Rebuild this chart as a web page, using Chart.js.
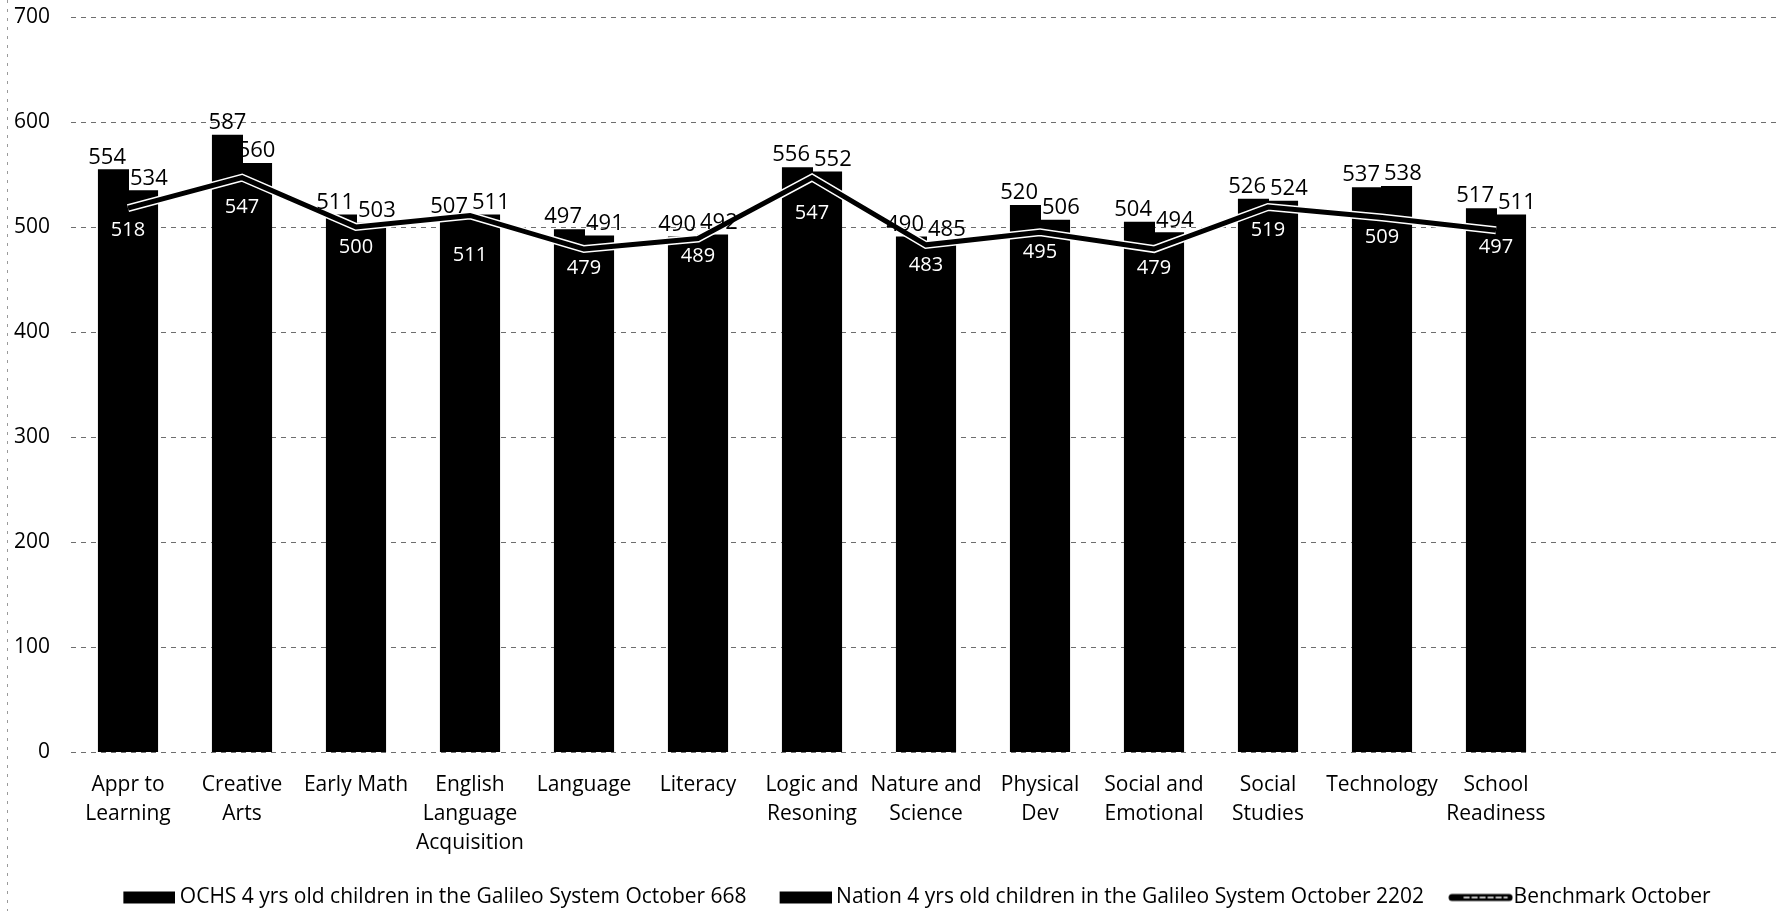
<!DOCTYPE html>
<html>
<head>
<meta charset="utf-8">
<title>Galileo October Scores</title>
<script src="https://cdn.jsdelivr.net/npm/chart.js@4/dist/chart.umd.min.js"></script>
<style>
  html, body { margin: 0; padding: 0; background: #fff; }
  #wrap { width: 1790px; height: 911px; position: relative; }
</style>
</head>
<body>
<div id="wrap"><canvas id="chart" width="1790" height="911"></canvas></div>
<script>
// Domain categories (two trailing empty slots keep the plot width)
const categories = [
  ['Appr to', 'Learning'],
  ['Creative', 'Arts'],
  'Early Math',
  ['English', 'Language', 'Acquisition'],
  'Language',
  'Literacy',
  ['Logic and', 'Resoning'],
  ['Nature and', 'Science'],
  ['Physical', 'Dev'],
  ['Social and', 'Emotional'],
  ['Social', 'Studies'],
  'Technology',
  ['School', 'Readiness'],
  '',
  ''
];

const ochsLabel = 'OCHS 4 yrs old children in the Galileo System October 668';
const nationLabel = 'Nation 4 yrs old children in the Galileo System October 2202';
const benchmarkLabel = 'Benchmark October';

const ochs      = [554, 587, 511, 507, 497, 490, 556, 490, 520, 504, 526, 537, 517];
const nation    = [534, 560, 503, 511, 491, 492, 552, 485, 506, 494, 524, 538, 511];
const benchmark = [518, 547, 500, 511, 479, 489, 547, 483, 495, 479, 519, 509, 497];

const yTicks = { min: 0, max: 700, step: 100 };

// How far (px) each benchmark value label sits below its point
const benchLabelDrop = [22, 30, 20, 40, 19, 18, 36, 20, 20, 19, 23, 20, 17];

const FONT = "'Open Sans', 'Noto Sans', sans-serif";
Chart.defaults.font.family = FONT;
Chart.defaults.color = '#000';

// Legend swatches: a wide black block for the bars and a black/white rule for the line.
// The legend centres each image on the point-style box, so the images are padded on the left.
const SW_PSW = 73;
function makeBarSwatch() {
  const W = 85, w = 52;
  const c = document.createElement('canvas');
  c.width = W; c.height = 14;
  const g = c.getContext('2d');
  g.fillStyle = '#000';
  g.fillRect(W - w, 1, w, 12);
  return c;
}
function makeLineSwatch() {
  const W = 93;
  const c = document.createElement('canvas');
  c.width = W; c.height = 14;
  const g = c.getContext('2d');
  g.strokeStyle = '#000';
  g.lineWidth = 7;
  g.lineCap = 'round';
  g.beginPath(); g.moveTo(32, 7); g.lineTo(W - 4, 7); g.stroke();
  g.strokeStyle = '#fff';
  g.lineWidth = 1.5;
  g.setLineDash([5, 3]);
  g.beginPath(); g.moveTo(44, 7); g.lineTo(W - 6, 7); g.stroke();
  return c;
}
const swatches = [makeBarSwatch(), makeBarSwatch(), makeLineSwatch()];

// Value labels: black above the bars, white below the benchmark line
const valueLabels = {
  id: 'valueLabels',
  afterDatasetsDraw(chart) {
    const ctx = chart.ctx;
    const mA = chart.getDatasetMeta(0);
    const mB = chart.getDatasetMeta(1);
    const mL = chart.getDatasetMeta(2);
    ctx.save();
    ctx.textAlign = 'center';
    ctx.textBaseline = 'middle';
    ctx.font = '22px ' + FONT;
    ctx.fillStyle = '#000';
    ochs.forEach((v, i) => {
      const a = mA.data[i], b = mB.data[i];
      const ta = String(v), tb = String(nation[i]);
      const wa = ctx.measureText(ta).width, wb = ctx.measureText(tb).width;
      let xa = a.x, xb = b.x;
      const ya = a.y - 13, yb = b.y - 13;
      if (Math.abs(ya - yb) < 24) {
        const need = (wa + wb) / 2 + 4 - (xb - xa);
        if (need > 0) { xa -= need / 2; xb += need / 2; }
      }
      ctx.fillText(ta, xa, ya);
      ctx.fillText(tb, xb, yb);
    });
    ctx.font = '20px ' + FONT;
    ctx.fillStyle = '#fff';
    benchmark.forEach((v, i) => {
      const p = mL.data[i];
      ctx.fillText(String(v), p.x, p.y + benchLabelDrop[i]);
    });
    ctx.restore();
  }
};

// Dotted margin rule on the far left
const marginRule = {
  id: 'marginRule',
  beforeDraw(chart) {
    const ctx = chart.ctx;
    ctx.save();
    ctx.strokeStyle = '#9a9a9a';
    ctx.lineWidth = 1;
    ctx.setLineDash([3, 6]);
    ctx.beginPath();
    ctx.moveTo(7.5, 0);
    ctx.lineTo(7.5, chart.height);
    ctx.stroke();
    ctx.restore();
  }
};

// Nudge the legend row
const legendShift = {
  id: 'legendShift',
  afterLayout(chart) {
    const lg = chart.legend;
    if (lg) {
      lg.left += 6; lg.right += 6;
      lg.top += 7; lg.bottom += 7;
    }
  }
};

new Chart(document.getElementById('chart'), {
  type: 'bar',
  data: {
    labels: categories,
    datasets: [
      {
        label: ochsLabel,
        data: ochs,
        backgroundColor: '#000',
        borderWidth: 0,
        inflateAmount: 1,
        order: 3,
        categoryPercentage: 0.51,
        barPercentage: 1.0
      },
      {
        label: nationLabel,
        data: nation,
        backgroundColor: '#000',
        borderWidth: 0,
        inflateAmount: 1,
        order: 3,
        categoryPercentage: 0.51,
        barPercentage: 1.0
      },
      {
        type: 'line',
        label: benchmarkLabel,
        data: benchmark,
        borderColor: '#000',
        backgroundColor: '#000',
        borderWidth: 5,
        pointRadius: 0,
        tension: 0,
        order: 1
      },
      {
        type: 'line',
        label: 'outline',
        data: benchmark,
        borderColor: '#fff',
        borderWidth: 8,
        pointRadius: 0,
        tension: 0,
        order: 2
      }
    ]
  },
  options: {
    responsive: false,
    animation: false,
    layout: { padding: { top: 17, left: 14, right: 9, bottom: 0 } },
    plugins: {
      tooltip: { enabled: false },
      legend: {
        position: 'bottom',
        labels: {
          usePointStyle: true,
          pointStyleWidth: SW_PSW,
          padding: 6,
          font: { size: 21 },
          color: '#000',
          filter: (item) => item.datasetIndex < 3,
          sort: (a, b) => a.datasetIndex - b.datasetIndex,
          generateLabels(chart) {
            const items = Chart.defaults.plugins.legend.labels.generateLabels(chart);
            items.forEach((it) => {
              if (it.datasetIndex < 3) it.pointStyle = swatches[it.datasetIndex];
            });
            return items;
          }
        }
      }
    },
    scales: {
      x: {
        grid: { display: false, drawTicks: false },
        border: { display: false },
        ticks: {
          padding: 18,
          maxRotation: 0,
          autoSkip: false,
          font: { size: 21, lineHeight: 1.4 },
          color: '#000'
        },
        afterFit(scale) { scale.height = 122; }
      },
      y: {
        min: yTicks.min,
        max: yTicks.max,
        border: { display: false, dash: [5, 5] },
        grid: {
          color: '#6e6e6e',
          lineWidth: 1,
          drawTicks: false
        },
        ticks: {
          stepSize: yTicks.step,
          padding: 21,
          font: { size: 21 },
          color: '#000'
        },
        afterFit(scale) {
          scale.width = 57;
          scale.paddingTop = 0;
          scale.paddingBottom = 0;
        }
      }
    }
  },
  plugins: [marginRule, valueLabels, legendShift]
});
</script>
</body>
</html>
